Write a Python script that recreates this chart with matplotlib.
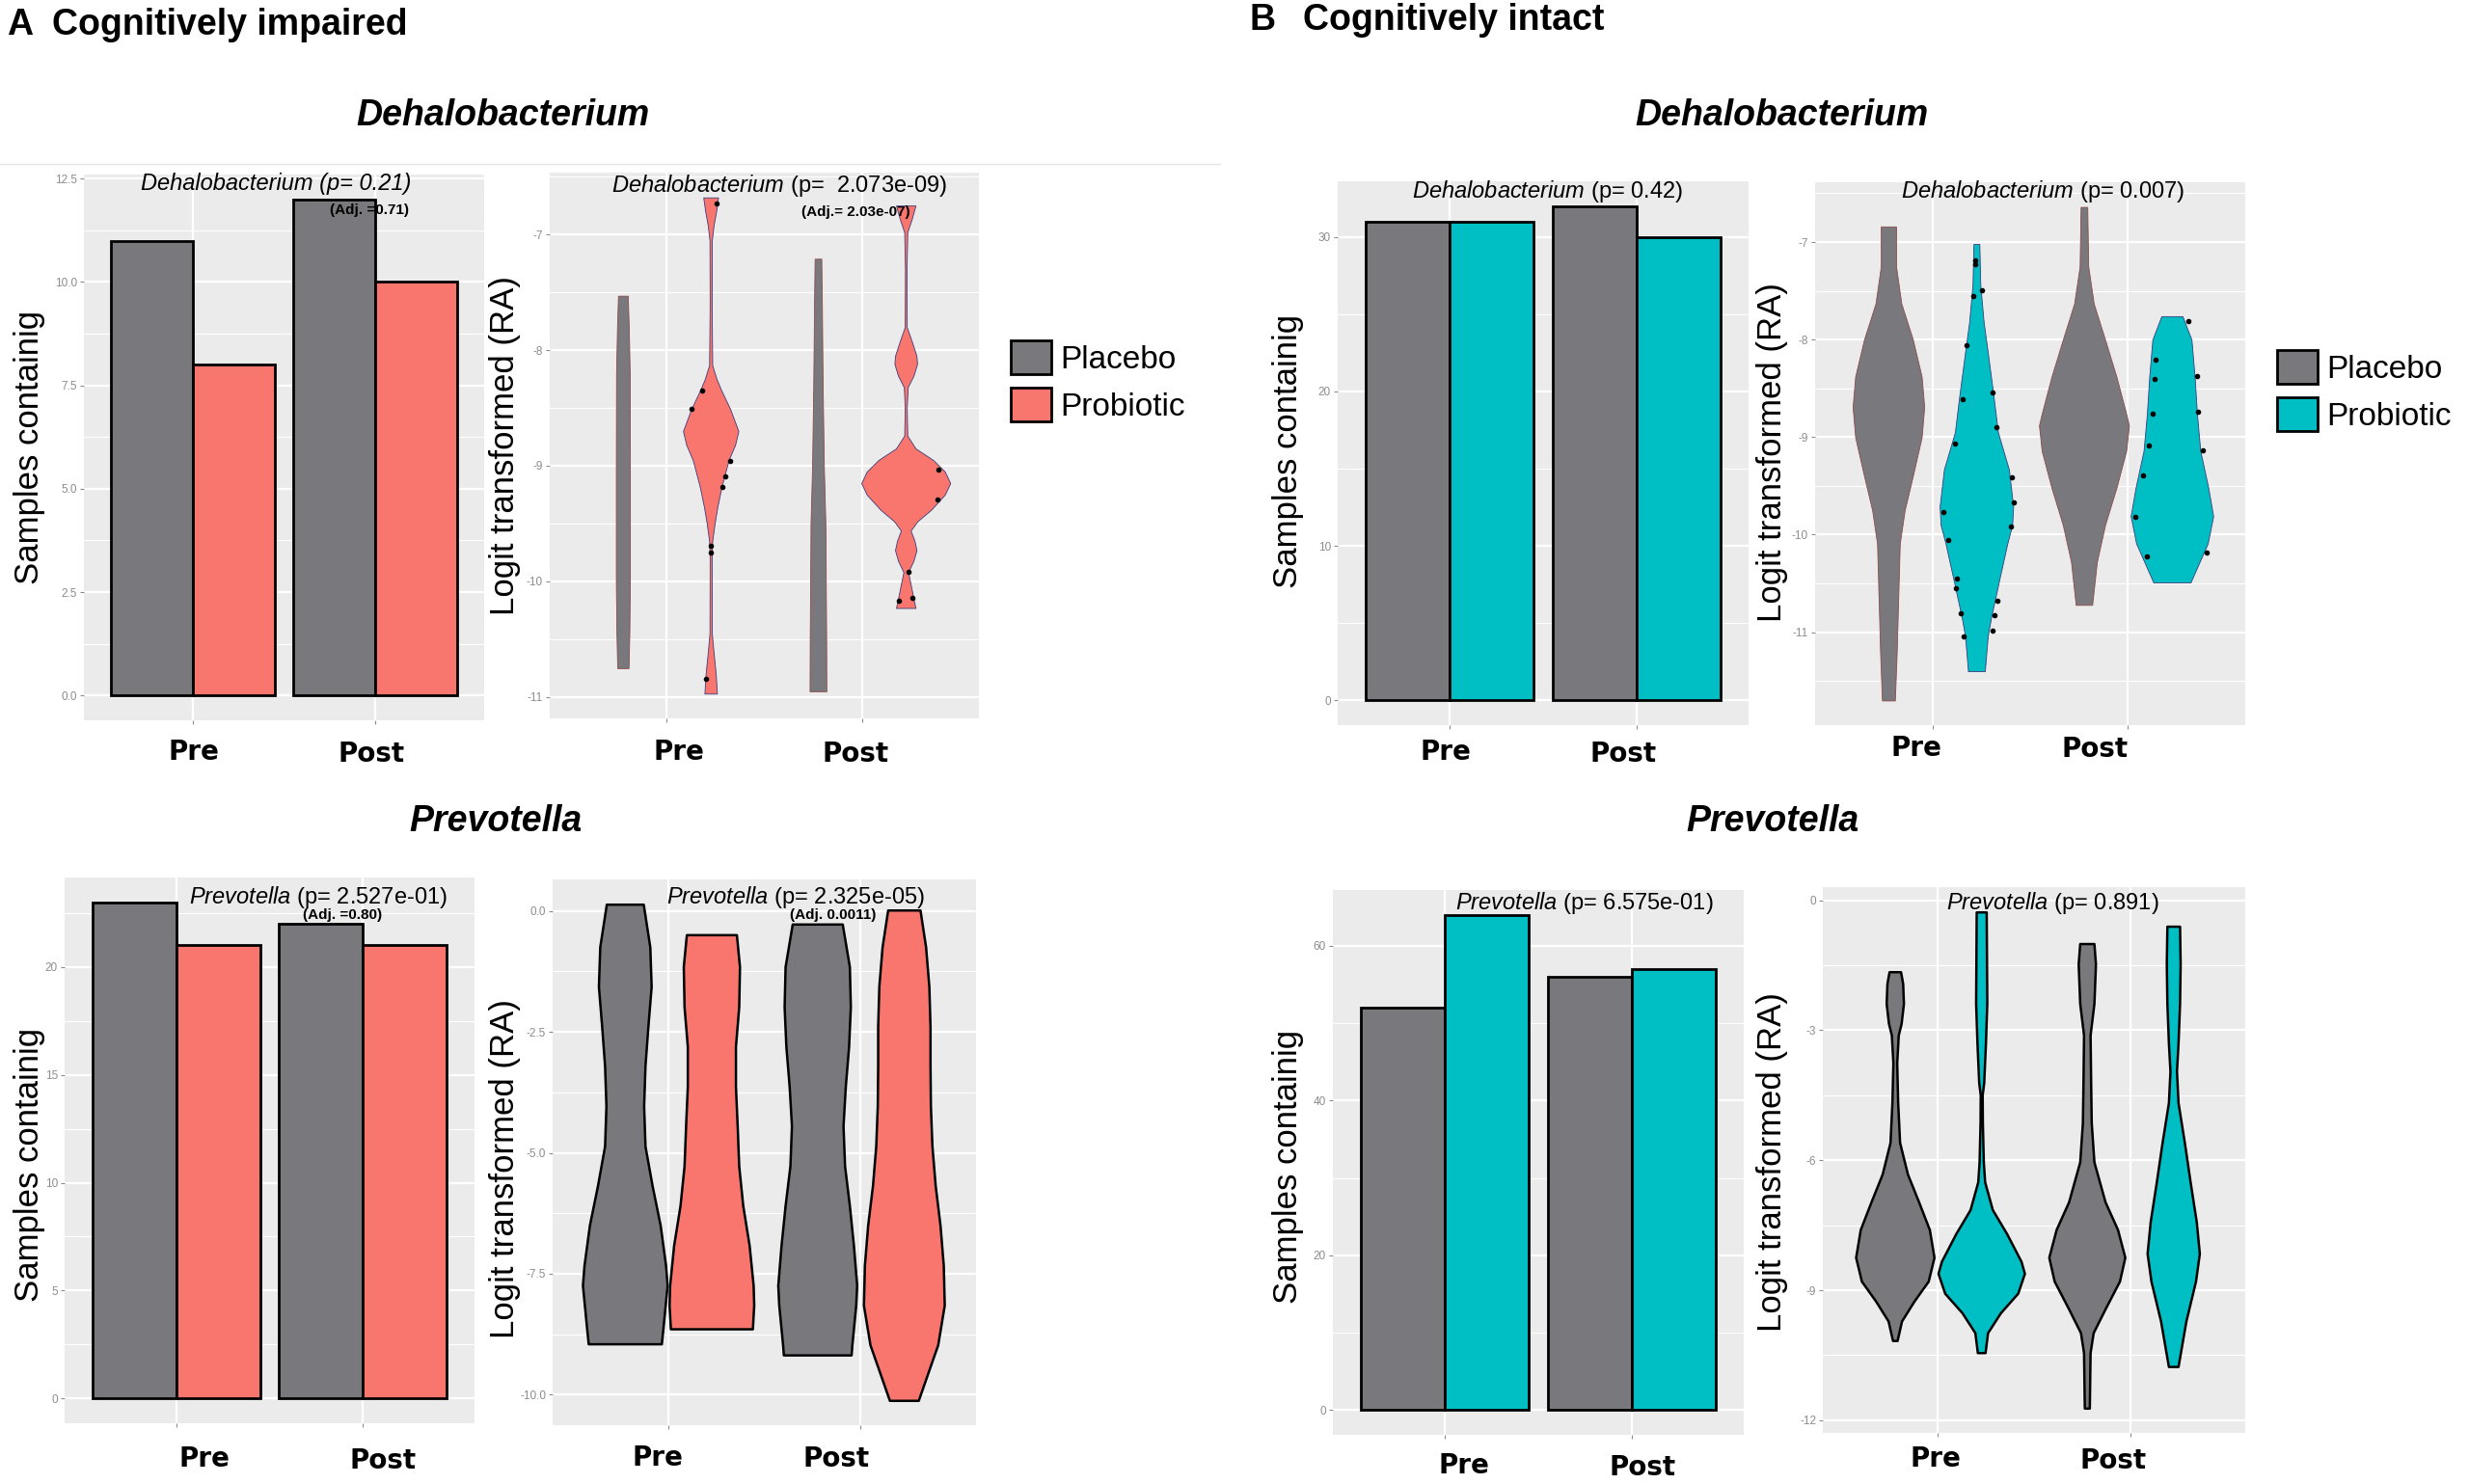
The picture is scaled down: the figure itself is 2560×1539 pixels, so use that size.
import numpy as np
import matplotlib.pyplot as plt
from matplotlib.lines import Line2D
from matplotlib.patches import Patch

plt.rcParams.update({'font.family': 'Liberation Sans',
                     'mathtext.fontset': 'custom',
                     'mathtext.rm': 'Liberation Sans',
                     'mathtext.it': 'Liberation Sans:italic',
                     'mathtext.bf': 'Liberation Sans:bold'})

W, H = 2560, 1539
GREY = '#79787d'
SALMON = '#f8766d'
CYAN = '#00bfc4'
PANEL = '#ebebeb'

groups = ['Pre', 'Post']
arms = ['Placebo', 'Probiotic']

# samples containing the genus, [Pre, Post]
a_deh_placebo = [11, 12]
a_deh_probiotic = [8, 10]
a_prev_placebo = [23, 22]
a_prev_probiotic = [21, 21]
b_deh_placebo = [31, 32]
b_deh_probiotic = [31, 30]
b_prev_placebo = [52, 56]
b_prev_probiotic = [64, 57]

# violin outlines: logit(RA) levels and half widths
a_deh_pla_pre_y = [-7.53, -7.8, -8.2, -9.0, -10.0, -10.45, -10.75]
a_deh_pla_pre_w = [0.025, 0.03, 0.035, 0.036, 0.036, 0.033, 0.029]
a_deh_pro_pre_y = [-6.68, -6.8, -6.92, -7.05, -7.6, -8.13, -8.25, -8.35, -8.51, -8.7, -8.82, -8.95,
                   -9.09, -9.18, -9.35, -9.5, -9.65, -9.8, -10.45, -10.6, -10.8, -10.97]
a_deh_pro_pre_w = [0.038, 0.028, 0.015, 0.006, 0.005, 0.008, 0.03, 0.055, 0.1, 0.142, 0.125, 0.092,
                   0.07, 0.056, 0.035, 0.02, 0.008, 0.005, 0.006, 0.014, 0.026, 0.032]
a_deh_pla_post_y = [-7.21, -7.6, -8.3, -9.0, -9.5, -10.0, -10.5, -10.95]
a_deh_pla_post_w = [0.017, 0.02, 0.024, 0.03, 0.038, 0.04, 0.042, 0.043]
a_deh_pro_post_y = [-6.75, -6.87, -6.98, -7.3, -7.8, -7.92, -8.05, -8.12, -8.22, -8.32, -8.5, -8.74,
                    -8.85, -8.95, -9.05, -9.15, -9.25, -9.38, -9.48, -9.56, -9.65, -9.73, -9.82,
                    -9.92, -10.05, -10.15, -10.23]
a_deh_pro_post_w = [0.05, 0.03, 0.008, 0.004, 0.005, 0.03, 0.055, 0.058, 0.04, 0.01, 0.005, 0.008,
                    0.05, 0.14, 0.2, 0.228, 0.2, 0.13, 0.06, 0.025, 0.045, 0.055, 0.04,
                    0.012, 0.028, 0.04, 0.05]
a_deh_dots_x = [1.254, 1.18, 1.128, 1.323, 1.30, 1.287, 1.224, 1.224, 1.20,
                2.39, 2.386, 2.24, 2.19, 2.26]
a_deh_dots_y = [-6.73, -8.35, -8.51, -8.955, -9.09, -9.18, -9.69, -9.75, -10.84,
                -9.03, -9.29, -9.92, -10.17, -10.14]

a_prev_pla_pre_y = [0.14, -0.74, -1.56, -2.39, -3.2, -4.03, -4.86, -5.68, -6.5, -7.33, -7.74, -8.15, -8.56, -8.95]
a_prev_pla_pre_w = [0.096, 0.13, 0.137, 0.12, 0.105, 0.098, 0.105, 0.142, 0.184, 0.212, 0.22, 0.21, 0.2, 0.19]
a_prev_pro_pre_y = [-0.49, -1.15, -1.98, -2.8, -3.62, -4.44, -5.27, -6.09, -6.91, -7.74, -8.15, -8.64]
a_prev_pro_pre_w = [0.13, 0.146, 0.142, 0.125, 0.125, 0.134, 0.142, 0.163, 0.196, 0.217, 0.22, 0.213]
a_prev_pla_post_y = [-0.27, -1.15, -1.98, -2.8, -3.62, -4.44, -5.27, -6.09, -6.91, -7.74, -8.15, -8.97, -9.18]
a_prev_pla_post_w = [0.13, 0.167, 0.172, 0.163, 0.146, 0.134, 0.142, 0.167, 0.188, 0.205, 0.2, 0.18, 0.176]
a_prev_pro_post_y = [0.02, -0.74, -1.56, -2.39, -3.2, -4.03, -4.86, -5.68, -6.5, -7.33, -8.15, -8.97, -9.55, -10.12]
a_prev_pro_post_w = [0.084, 0.113, 0.13, 0.136, 0.136, 0.138, 0.146, 0.163, 0.188, 0.205, 0.21, 0.176, 0.125, 0.075]

b_deh_pla_pre_y = [-6.84, -7.25, -7.63, -8.0, -8.38, -8.69, -9.0, -9.37, -9.75, -10.09, -10.66, -11.23, -11.7]
b_deh_pla_pre_w = [0.039, 0.039, 0.066, 0.125, 0.17, 0.183, 0.17, 0.128, 0.083, 0.058, 0.05, 0.042, 0.033]
b_deh_pro_pre_y = [-7.02, -7.44, -7.82, -8.19, -8.57, -8.95, -9.33, -9.71, -9.9, -10.09, -10.47, -10.85, -11.04, -11.4]
b_deh_pro_pre_w = [0.015, 0.02, 0.037, 0.062, 0.087, 0.11, 0.166, 0.188, 0.183, 0.158, 0.116, 0.075, 0.058, 0.043]
b_deh_pla_post_y = [-6.64, -7.25, -7.63, -8.0, -8.38, -8.76, -8.88, -9.14, -9.52, -9.9, -10.28, -10.72]
b_deh_pla_post_w = [0.017, 0.022, 0.05, 0.108, 0.166, 0.216, 0.23, 0.216, 0.166, 0.108, 0.066, 0.042]
b_deh_pro_post_y = [-7.76, -8.0, -8.38, -8.76, -9.14, -9.52, -9.81, -10.09, -10.49]
b_deh_pro_post_w = [0.054, 0.1, 0.116, 0.128, 0.145, 0.186, 0.211, 0.183, 0.095]
b_deh_dots_x = [1.221, 1.221, 1.209, 1.251, 1.176, 1.309, 1.156, 1.326, 1.115, 1.405, 1.414, 1.40, 1.055,
                1.08, 1.126, 1.121, 1.143, 1.159, 1.334, 1.317, 1.309,
                2.311, 2.14, 2.135, 2.355, 2.126, 2.36, 2.106, 2.385, 2.076, 2.037, 2.095, 2.405]
b_deh_dots_y = [-7.19, -7.23, -7.55, -7.49, -8.06, -8.54, -8.61, -8.90, -9.07, -9.41, -9.67, -9.92, -9.77,
                -10.05, -10.45, -10.55, -10.81, -11.04, -10.68, -10.83, -10.98,
                -7.81, -8.21, -8.40, -8.37, -8.76, -8.74, -9.09, -9.14, -9.39, -9.82, -10.22, -10.18]

b_prev_pla_pre_y = [-1.65, -1.92, -2.38, -2.84, -3.11, -3.75, -4.67, -5.59, -6.32, -6.96, -7.6, -8.24,
                    -8.79, -9.25, -9.71, -10.16]
b_prev_pla_pre_w = [0.03, 0.041, 0.045, 0.033, 0.018, 0.01, 0.015, 0.025, 0.066, 0.124, 0.18, 0.204,
                    0.174, 0.1, 0.035, 0.012]
b_prev_pro_pre_y = [-0.27, -1.0, -2.38, -3.3, -4.21, -4.49, -5.13, -6.04, -6.5, -7.14, -7.69, -8.33,
                    -8.61, -9.07, -9.52, -9.98, -10.44]
b_prev_pro_pre_w = [0.026, 0.027, 0.029, 0.022, 0.013, 0.005, 0.006, 0.011, 0.018, 0.058, 0.132, 0.207,
                    0.225, 0.19, 0.1, 0.033, 0.02]
b_prev_pla_post_y = [-1.0, -1.47, -2.38, -3.11, -4.21, -5.13, -6.04, -6.96, -7.6, -8.24, -8.79, -9.43,
                     -9.98, -10.44, -11.72]
b_prev_pla_post_w = [0.037, 0.045, 0.037, 0.017, 0.02, 0.023, 0.037, 0.095, 0.16, 0.198, 0.17, 0.095,
                     0.033, 0.017, 0.013]
b_prev_pro_post_y = [-0.6, -1.47, -2.38, -3.3, -3.94, -4.67, -5.59, -6.5, -7.42, -8.15, -8.79, -9.71, -10.76]
b_prev_pro_post_w = [0.033, 0.036, 0.033, 0.025, 0.017, 0.025, 0.058, 0.088, 0.12, 0.136, 0.116, 0.066, 0.025]


fig = plt.figure(figsize=(W / 100, H / 100), dpi=100)
fig.patch.set_facecolor('white')


def fx(x):
    return x / W


def fy(y):
    return 1 - y / H


def add_panel(x0, y0, x1, y1):
    return fig.add_axes([fx(x0), fy(y1), (x1 - x0) / W, (y1 - y0) / H])


def style(ax, lo, hi, ticks, labels):
    step = ticks[1] - ticks[0]
    pad = 0.05 * (hi - lo)
    ax.set_facecolor(PANEL)
    ax.set_xticks([1, 2])
    ax.set_xticklabels(['', ''])
    ax.set_yticks(ticks)
    ax.set_yticklabels(labels, fontsize=8.5, color='#8c8c8c')
    ax.set_yticks(np.arange(ticks[0] - step / 2, ticks[-1] + step, step), minor=True)
    # limits last, set_yticks would widen them otherwise
    ax.set_xlim(0.4, 2.6)
    ax.set_ylim(lo - pad, hi + pad)
    ax.grid(True, which='major', color='white', lw=1.6)
    ax.grid(True, which='minor', axis='y', color='white', lw=0.8)
    ax.tick_params(which='major', length=3, width=0.8, color='#8c8c8c', pad=2)
    ax.tick_params(which='minor', length=0)
    ax.set_axisbelow(True)
    for s in ax.spines.values():
        s.set_visible(False)


def bars(ax, placebo, probiotic, color):
    x = np.arange(1, len(groups) + 1)
    ax.bar(x - 0.225, placebo, width=0.45, color=GREY, edgecolor='black', lw=2, zorder=3)
    ax.bar(x + 0.225, probiotic, width=0.45, color=color, edgecolor='black', lw=2, zorder=3)


def violin(ax, pos, ys, ws, color, ec, lw):
    ys = np.asarray(ys, float)
    ws = np.asarray(ws, float)
    st = dict(coords=ys, vals=ws, mean=ys.mean(), median=np.median(ys), min=ys.min(), max=ys.max())
    parts = ax.violin([st], positions=[pos], widths=[2 * ws.max()],
                      showmeans=False, showextrema=False, showmedians=False)
    for b in parts['bodies']:
        b.set_facecolor(color)
        b.set_edgecolor(ec)
        b.set_linewidth(lw)
        b.set_alpha(1)
        b.set_zorder(3)


def ftext(x, y, s, **kw):
    fig.text(fx(x), fy(y), s, **kw)


# faint rule under the top-left heading
fig.add_artist(Line2D([0, fx(1265)], [fy(170), fy(170)], color='#e4e4e4', lw=1))

# ---- A: cognitively impaired ----
ax = add_panel(87, 181, 502, 747)
bars(ax, a_deh_placebo, a_deh_probiotic, SALMON)
style(ax, 0, 12, [0, 2.5, 5, 7.5, 10, 12.5], ['0.0', '2.5', '5.0', '7.5', '10.0', '12.5'])

ax = add_panel(570, 179, 1015, 745)
violin(ax, 0.775, a_deh_pla_pre_y, a_deh_pla_pre_w, GREY, '#8b4a4a', 0.6)
violin(ax, 1.225, a_deh_pro_pre_y, a_deh_pro_pre_w, SALMON, '#3b3b7a', 0.6)
violin(ax, 1.775, a_deh_pla_post_y, a_deh_pla_post_w, GREY, '#8b4a4a', 0.6)
violin(ax, 2.225, a_deh_pro_post_y, a_deh_pro_post_w, SALMON, '#3b3b7a', 0.6)
ax.plot(a_deh_dots_x, a_deh_dots_y, 'o', color='black', ms=3, zorder=4)
style(ax, -10.97, -6.68, [-11, -10, -9, -8, -7], ['-11', '-10', '-9', '-8', '-7'])

ax = add_panel(67, 910, 492, 1476)
bars(ax, a_prev_placebo, a_prev_probiotic, SALMON)
style(ax, 0, 23, [0, 5, 10, 15, 20], ['0', '5', '10', '15', '20'])

ax = add_panel(573, 912, 1012, 1478)
violin(ax, 0.775, a_prev_pla_pre_y, a_prev_pla_pre_w, GREY, 'black', 1.8)
violin(ax, 1.225, a_prev_pro_pre_y, a_prev_pro_pre_w, SALMON, 'black', 1.8)
violin(ax, 1.775, a_prev_pla_post_y, a_prev_pla_post_w, GREY, 'black', 1.8)
violin(ax, 2.225, a_prev_pro_post_y, a_prev_pro_post_w, SALMON, 'black', 1.8)
style(ax, -10.12, 0.14, [-10, -7.5, -5, -2.5, 0], ['-10.0', '-7.5', '-5.0', '-2.5', '0.0'])

# ---- B: cognitively intact ----
ax = add_panel(1387, 188, 1813, 752)
bars(ax, b_deh_placebo, b_deh_probiotic, CYAN)
style(ax, 0, 32, [0, 10, 20, 30], ['0', '10', '20', '30'])

ax = add_panel(1882, 189, 2328, 752)
violin(ax, 0.775, b_deh_pla_pre_y, b_deh_pla_pre_w, GREY, '#8b4a4a', 0.6)
violin(ax, 1.225, b_deh_pro_pre_y, b_deh_pro_pre_w, CYAN, '#3b3b7a', 0.6)
violin(ax, 1.775, b_deh_pla_post_y, b_deh_pla_post_w, GREY, '#8b4a4a', 0.6)
violin(ax, 2.225, b_deh_pro_post_y, b_deh_pro_post_w, CYAN, '#3b3b7a', 0.6)
ax.plot(b_deh_dots_x, b_deh_dots_y, 'o', color='black', ms=3, zorder=4)
style(ax, -11.7, -6.64, [-11, -10, -9, -8, -7], ['-11', '-10', '-9', '-8', '-7'])

ax = add_panel(1382, 923, 1808, 1488)
bars(ax, b_prev_placebo, b_prev_probiotic, CYAN)
style(ax, 0, 64, [0, 20, 40, 60], ['0', '20', '40', '60'])

ax = add_panel(1890, 920, 2328, 1486)
violin(ax, 0.775, b_prev_pla_pre_y, b_prev_pla_pre_w, GREY, 'black', 1.8)
violin(ax, 1.225, b_prev_pro_pre_y, b_prev_pro_pre_w, CYAN, 'black', 1.8)
violin(ax, 1.775, b_prev_pla_post_y, b_prev_pla_post_w, GREY, 'black', 1.8)
violin(ax, 2.225, b_prev_pro_post_y, b_prev_pro_post_w, CYAN, 'black', 1.8)
style(ax, -11.72, -0.27, [-12, -9, -6, -3, 0], ['-12', '-9', '-6', '-3', '0'])

# ---- headings ----
hd = dict(fontsize=27, fontweight='bold', va='center', ha='left')
ftext(7, 26, 'A', **hd)
ftext(54, 26, 'Cognitively impaired', **hd)
ftext(1295, 21, 'B', **hd)
ftext(1351, 21, 'Cognitively intact', **hd)

gen = dict(fontsize=27, fontweight='bold', style='italic', ha='center', va='center')
ftext(521, 120, 'Dehalobacterium', **gen)
ftext(1847, 120, 'Dehalobacterium', **gen)
ftext(514, 852, 'Prevotella', **gen)
ftext(1838, 852, 'Prevotella', **gen)

# panel titles
tt = dict(fontsize=17, ha='center', va='center')
ftext(286, 191, 'Dehalobacterium (p= 0.21)', style='italic', **tt)
ftext(808, 193, r'$\mathit{Dehalobacterium}$ (p=  2.073e-09)', **tt)
ftext(1605, 198, r'$\mathit{Dehalobacterium}$ (p= 0.42)', **tt)
ftext(2118, 198, r'$\mathit{Dehalobacterium}$ (p= 0.007)', **tt)
ftext(330, 930, r'$\mathit{Prevotella}$ (p= 2.527e-01)', **tt)
ftext(825, 931, r'$\mathit{Prevotella}$ (p= 2.325e-05)', **tt)
ftext(1643, 937, r'$\mathit{Prevotella}$ (p= 6.575e-01)', **tt)
ftext(2128, 937, r'$\mathit{Prevotella}$ (p= 0.891)', **tt)

adj = dict(fontsize=11, fontweight='bold', ha='center', va='center')
ftext(383, 218, '(Adj. =0.71)', **adj)
ftext(887, 220, '(Adj.= 2.03e-07)', **adj)
ftext(355, 949, '(Adj. =0.80)', **adj)
ftext(864, 949, '(Adj. 0.0011)', **adj)

# axis titles
yl = dict(fontsize=25, rotation=90, ha='center', va='center')
for x, y in [(31, 464), (1336, 468), (31, 1208), (1336, 1210)]:
    ftext(x, y, 'Samples containig', **yl)
for x, y in [(524, 462), (1838, 469), (524, 1212), (1838, 1205)]:
    ftext(x, y, 'Logit transformed (RA)', **yl)

# Pre / Post under each panel
xl = dict(fontsize=20, fontweight='bold', family='DejaVu Sans', ha='center', va='center')
pre_post = [((201, 780), (385, 782)), ((704, 780), (887, 782)),
            ((1499, 780), (1683, 782)), ((1987, 776), (2172, 777)),
            ((212, 1513), (397, 1515)), ((682, 1512), (867, 1513)),
            ((1518, 1520), (1703, 1522)), ((2007, 1513), (2191, 1515))]
for (p1, p2) in pre_post:
    ftext(p1[0], p1[1], groups[0], **xl)
    ftext(p2[0], p2[1], groups[1], **xl)

# legends
lg = dict(loc='upper left', frameon=False, fontsize=24, borderpad=0, borderaxespad=0,
          handlelength=1.25, handleheight=1.25, handletextpad=0.3, labelspacing=0.4)
fig.legend([Patch(facecolor=GREY, edgecolor='black', lw=2), Patch(facecolor=SALMON, edgecolor='black', lw=2)],
           arms, bbox_to_anchor=(fx(1048), fy(353)), **lg)
fig.legend([Patch(facecolor=GREY, edgecolor='black', lw=2), Patch(facecolor=CYAN, edgecolor='black', lw=2)],
           arms, bbox_to_anchor=(fx(2361), fy(363)), **lg)

fig.savefig('out.png', dpi=100, facecolor='white')
